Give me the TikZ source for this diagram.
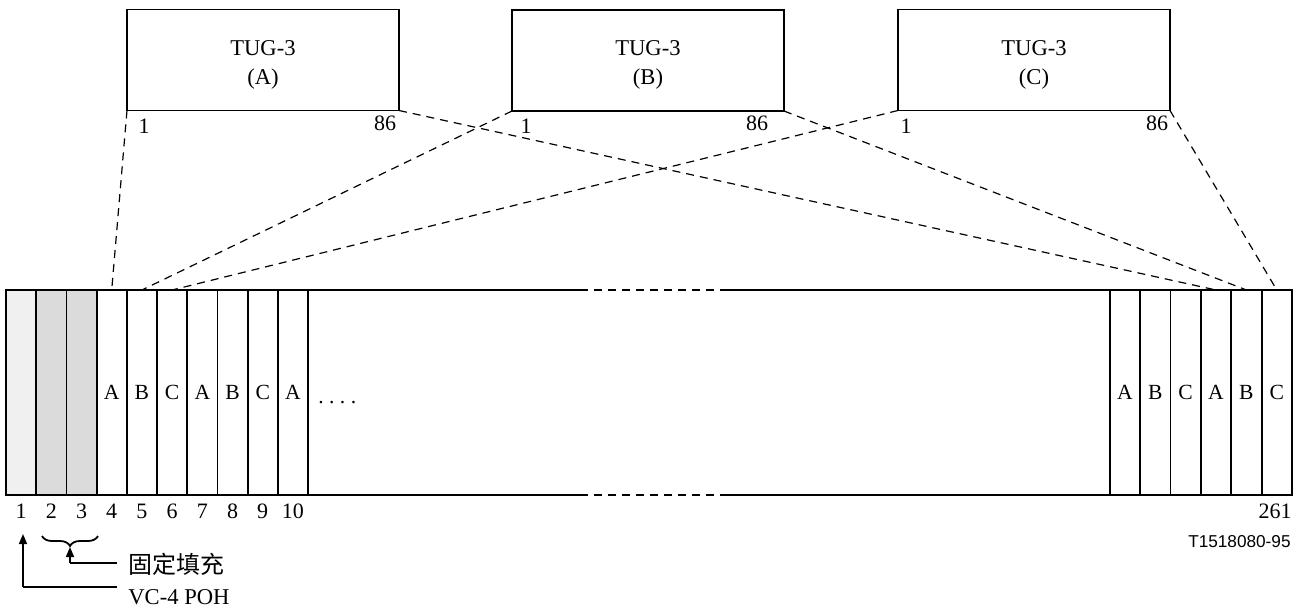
\documentclass[tikz,border=0pt]{standalone}
\usepackage{fontspec}
\setmainfont{Liberation Serif}
\newfontfamily\cjk{Noto Sans CJK SC}
\newfontfamily\arialf{Liberation Sans}
\usetikzlibrary{decorations.pathreplacing,arrows.meta}
\begin{document}
\begin{tikzpicture}[x=0.5pt,y=-0.5pt,
  tug/.style={draw,line width=0.75pt,minimum width=136pt,minimum height=50.5pt,inner sep=0pt,outer sep=0pt},
  tugtext/.style={align=center,inner sep=0pt,font=\fontsize{11.3}{14.5}\selectfont},
  cell/.style={draw,line width=0.9pt,minimum width=15.1pt,minimum height=102.5pt,inner sep=0pt,outer sep=0pt,font=\fontsize{10.8}{13}\selectfont},
  rcell/.style={cell,minimum width=15.2pt},
  num/.style={inner sep=0pt,font=\fontsize{11}{13}\selectfont},
  map/.style={line width=0.6pt,dash pattern=on 4pt off 3pt},
  frame/.style={line width=0.9pt},
  lead/.style={line width=0.75pt},
  tip/.style={-{Triangle[length=5pt,width=4pt]},line width=0.75pt}]
\useasboundingbox (0,0) rectangle (1301,610);
% TUG-3 boxes
\node[tug] (tugA) at (263,60) {};
\node[tug] (tugB) at (648,60.5) {};
\node[tug] (tugC) at (1034,60) {};
\node[tugtext] (tugAt) at (263,65) {TUG-3\\(A)};
\node[tugtext] (tugBt) at (648,65) {TUG-3\\(B)};
\node[tugtext] (tugCt) at (1034,65) {TUG-3\\(C)};
\node[num] (a1) at (144,126) {1};
\node[num] (a86) at (385,123) {86};
\node[num] (b1) at (526,126) {1};
\node[num] (b86) at (757,123) {86};
\node[num] (c1l) at (906,126) {1};
\node[num] (c86) at (1157,123) {86};
% left cells
\node[cell,fill=gray!12] (c1) at (21.1,392.5) {};
\node[cell,fill=gray!28] (c2) at (51.3,392.5) {};
\node[cell,fill=gray!28] (c3) at (81.5,392.5) {};
\node[cell] (c4) at (111.7,392.5) {A};
\node[cell] (c5) at (141.9,392.5) {B};
\node[cell] (c6) at (172.1,392.5) {C};
\node[cell] (c7) at (202.3,392.5) {A};
\node[cell] (c8) at (232.5,392.5) {B};
\node[cell] (c9) at (262.7,392.5) {C};
\node[cell] (c10) at (292.9,392.5) {A};
\node[anchor=west,inner sep=0pt,font=\fontsize{10.8}{13}\selectfont] (dots) at (318,403) {.\ .\ .\ .};
% right cells
\node[rcell] (r1) at (1124.8,392.5) {A};
\node[rcell] (r2) at (1155.2,392.5) {B};
\node[rcell] (r3) at (1185.6,392.5) {C};
\node[rcell] (r4) at (1216.0,392.5) {A};
\node[rcell] (r5) at (1246.4,392.5) {B};
\node[rcell] (r6) at (1276.8,392.5) {C};
% frame
\draw[frame] (c10.north east) -- (580,290) coordinate (tdl);
\draw[frame,dash pattern=on 4pt off 3pt] (tdl) -- (725,290) coordinate (tdr);
\draw[frame] (tdr) -- (r1.north west);
\draw[frame] (c10.south east) -- (580,495) coordinate (bdl);
\draw[frame,dash pattern=on 4pt off 3pt] (bdl) -- (725,495) coordinate (bdr);
\draw[frame] (bdr) -- (r1.south west);
% mapping lines
\draw[map] (tugA.south west) -- (c4.north);
\draw[map] (tugA.south east) -- (r4.north);
\draw[map] (tugB.south west) -- (c5.north);
\draw[map] (tugB.south east) -- (r5.north);
\draw[map] (tugC.south west) -- (c6.north);
\draw[map] (tugC.south east) -- (r6.north);
% column numbers
\foreach \i/\x in {1/21.1,2/51.3,3/81.5,4/111.7,5/141.9,6/172.1,7/202.3,8/232.5,9/262.7,10/292.9}
  \node[num] (n\i) at (\x,511.5) {\i};
\node[num,anchor=east] (n261) at (1292,511.5) {261};
\node[anchor=east,inner sep=0pt,font=\arialf\fontsize{8.6}{10}\selectfont] (code) at (1291,542) {T1518080-95};
% annotations
\draw[decorate,decoration={brace,amplitude=5pt,mirror},line width=0.9pt] (42,536) -- (98,536);
\coordinate (bk) at (70,563);
\coordinate (bkend) at (117,563);
\coordinate (btip) at (70,547);
\draw[lead] (bkend) -- (bk);
\draw[tip] (bk) -- (btip);
\node[anchor=west,inner sep=0pt,font=\cjk\fontsize{12}{14}\selectfont] (fix) at (128,564) {固定填充};
\coordinate (pk) at (23,587);
\coordinate (pkend) at (117,587);
\coordinate (ptip) at (23,534);
\draw[lead] (pkend) -- (pk);
\draw[tip] (pk) -- (ptip);
\node[anchor=west,inner sep=0pt,font=\fontsize{11.3}{13}\selectfont] (poh) at (128,597) {VC-4 POH};
\end{tikzpicture}
\end{document}
